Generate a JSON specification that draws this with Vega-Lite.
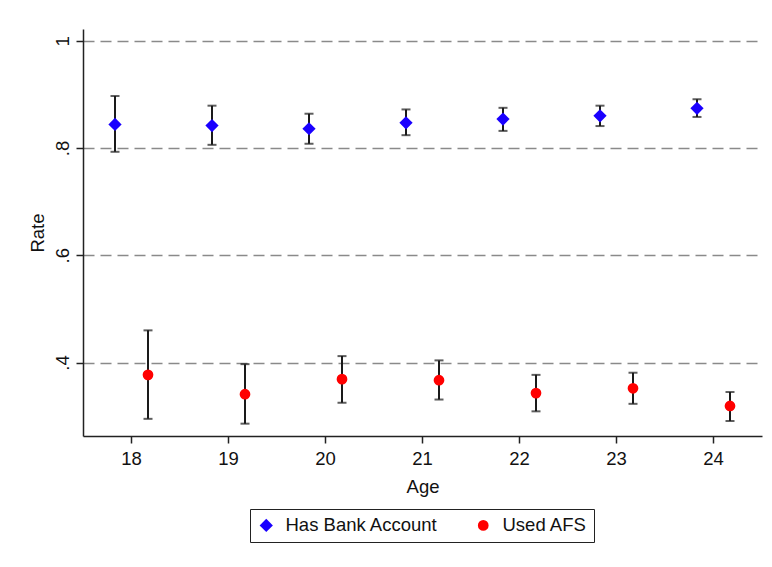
{
  "$schema": "https://vega.github.io/schema/vega-lite/v6.json",
  "autosize": {"type": "none"},
  "width": 679,
  "height": 407,
  "padding": {"left": 83, "top": 29, "right": 10, "bottom": 131},
  "background": "white",
  "config": {
    "view": {"stroke": null},
    "font": "Liberation Sans",
    "axis": {"labelFont": "Liberation Sans", "titleFont": "Liberation Sans", "labelColor": "#111", "titleColor": "#111", "titleFontWeight": "normal"},
    "legend": {"labelFont": "Liberation Sans"}
  },
  "data": {
    "values": [
      {"age": 18, "series": "Has Bank Account", "rate": 0.844, "lo": 0.793, "hi": 0.897},
      {"age": 19, "series": "Has Bank Account", "rate": 0.842, "lo": 0.806, "hi": 0.879},
      {"age": 20, "series": "Has Bank Account", "rate": 0.836, "lo": 0.808, "hi": 0.864},
      {"age": 21, "series": "Has Bank Account", "rate": 0.847, "lo": 0.824, "hi": 0.872},
      {"age": 22, "series": "Has Bank Account", "rate": 0.854, "lo": 0.832, "hi": 0.875},
      {"age": 23, "series": "Has Bank Account", "rate": 0.860, "lo": 0.841, "hi": 0.879},
      {"age": 24, "series": "Has Bank Account", "rate": 0.874, "lo": 0.858, "hi": 0.891},
      {"age": 18, "series": "Used AFS", "rate": 0.377, "lo": 0.295, "hi": 0.460},
      {"age": 19, "series": "Used AFS", "rate": 0.341, "lo": 0.286, "hi": 0.397},
      {"age": 20, "series": "Used AFS", "rate": 0.369, "lo": 0.325, "hi": 0.412},
      {"age": 21, "series": "Used AFS", "rate": 0.367, "lo": 0.331, "hi": 0.404},
      {"age": 22, "series": "Used AFS", "rate": 0.343, "lo": 0.309, "hi": 0.377},
      {"age": 23, "series": "Used AFS", "rate": 0.352, "lo": 0.323, "hi": 0.381},
      {"age": 24, "series": "Used AFS", "rate": 0.319, "lo": 0.291, "hi": 0.345}
    ]
  },
  "encoding": {
    "x": {
      "field": "age", "type": "ordinal",
      "scale": {"domain": [18, 19, 20, 21, 22, 23, 24], "paddingInner": 0, "paddingOuter": 0},
      "axis": {
        "title": "Age", "labelAngle": 0, "labelFontSize": 18.5, "titleFontSize": 18.5,
        "tickSize": 7, "tickColor": "#222", "tickWidth": 1.5, "domainColor": "#222", "domainWidth": 1.5,
        "labelPadding": 6, "titlePadding": 10, "grid": false
      }
    },
    "xOffset": {
      "field": "series", "type": "nominal",
      "scale": {"type": "point", "domain": ["Has Bank Account", "Used AFS"], "range": [32, 65], "padding": 0}
    }
  },
  "layer": [
    {
      "mark": {"type": "rule", "color": "#1a1a1a", "strokeWidth": 2},
      "encoding": {
        "y": {
          "field": "lo", "type": "quantitative",
          "scale": {"domain": [0.263, 1.022], "nice": false, "zero": false},
          "axis": {
            "title": "Rate", "values": [0.4, 0.6, 0.8, 1],
            "labelExpr": "datum.value < 1 ? slice(format(datum.value, '.1f'), 1) : '1'",
            "labelAngle": -90, "labelAlign": "center", "labelBaseline": "bottom", "labelFontSize": 18.5,
            "labelPadding": 4, "titleFontSize": 18.5, "titlePadding": 6,
            "tickSize": 7, "tickColor": "#222", "tickWidth": 1.5, "domainColor": "#222", "domainWidth": 1.5,
            "grid": true, "gridColor": "#8a8a8a", "gridDash": [11, 6], "gridWidth": 1.5
          }
        },
        "y2": {"field": "hi"}
      }
    },
    {
      "mark": {"type": "tick", "color": "#1a1a1a", "thickness": 2, "size": 9, "orient": "horizontal"},
      "encoding": {"y": {"field": "lo", "type": "quantitative"}}
    },
    {
      "mark": {"type": "tick", "color": "#1a1a1a", "thickness": 2, "size": 9, "orient": "horizontal"},
      "encoding": {"y": {"field": "hi", "type": "quantitative"}}
    },
    {
      "mark": {"type": "point", "filled": true, "opacity": 1},
      "encoding": {
        "y": {"field": "rate", "type": "quantitative"},
        "color": {
          "field": "series", "type": "nominal",
          "scale": {"domain": ["Has Bank Account", "Used AFS"], "range": ["#1a00ff", "#ff0000"]},
          "legend": {
            "title": null, "orient": "none", "legendX": 167, "legendY": 480, "direction": "horizontal",
            "columns": 2, "columnPadding": 36, "labelFontSize": 18.5, "labelColor": "#111", "symbolSize": 125,
            "labelOffset": 10, "strokeColor": "#222", "padding": 7, "fillColor": "white", "symbolStrokeWidth": 0
          }
        },
        "shape": {
          "field": "series", "type": "nominal",
          "scale": {"domain": ["Has Bank Account", "Used AFS"], "range": ["diamond", "circle"]}
        },
        "size": {
          "field": "series", "type": "nominal",
          "scale": {"domain": ["Has Bank Account", "Used AFS"], "range": [175, 115]},
          "legend": null
        }
      }
    }
  ]
}
